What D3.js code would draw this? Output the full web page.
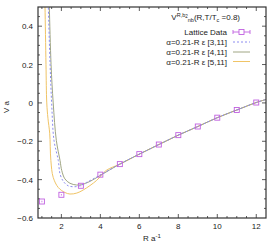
<!DOCTYPE html>
<html>
<head>
<meta charset="utf-8">
<script src="https://cdn.jsdelivr.net/npm/d3@7"></script>
<style>
  body { margin: 0; background: white; }
  svg { display: block; font-family: "Liberation Sans", Arial, sans-serif; }
</style>
</head>
<body>
<svg id="chart" width="280" height="251"></svg>
<script>
// lattice points
const latticeR = [1, 2, 3, 4, 5, 6, 7, 8, 9, 10, 11, 12];
const latticeV = [-0.514, -0.479, -0.432, -0.374, -0.319, -0.267, -0.217, -0.168, -0.123, -0.077, -0.037, 0.002];
const latticeErr = [0.004, 0.004, 0.003, 0.003, 0.003, 0.003, 0.003, 0.003, 0.003, 0.003, 0.003, 0.003];

// fit curves, sampled off the figure
const fit3R = [1.30, 1.33, 1.42, 1.50, 1.62, 1.84, 1.93, 2.10, 2.35, 2.70, 2.95, 3.30, 4.0, 5, 6, 7, 8, 9, 10, 11, 12, 12.5];
const fit3V = [0.60, 0.50, 0.20, 0.00, -0.195, -0.30, -0.37, -0.409, -0.432, -0.437, -0.432, -0.414, -0.376, -0.319, -0.267, -0.217, -0.168, -0.123, -0.077, -0.037, 0.002, 0.018];
const fit4R = [1.35, 1.38, 1.47, 1.58, 1.74, 1.93, 2.02, 2.18, 2.44, 2.78, 3.04, 3.47, 3.98, 5, 6, 7, 8, 9, 10, 11, 12, 12.5];
const fit4V = [0.60, 0.50, 0.20, 0.00, -0.195, -0.30, -0.353, -0.396, -0.419, -0.428, -0.426, -0.409, -0.379, -0.319, -0.267, -0.217, -0.168, -0.123, -0.077, -0.037, 0.002, 0.018];
const fit5R = [1.14, 1.16, 1.21, 1.25, 1.31, 1.40, 1.46, 1.58, 1.84, 2.18, 2.44, 2.79, 3.12, 3.81, 4.3, 5, 6, 7, 8, 9, 10, 11, 12, 12.5];
const fit5V = [0.60, 0.50, 0.20, 0.00, -0.08, -0.158, -0.30, -0.388, -0.441, -0.467, -0.475, -0.470, -0.454, -0.404, -0.352, -0.319, -0.267, -0.217, -0.168, -0.123, -0.077, -0.037, 0.002, 0.018];

const xTicks = [2, 4, 6, 8, 10, 12];
const yTicks = [-0.6, -0.4, -0.2, 0, 0.2, 0.4];
const legendLabels = ["Lattice Data", "\u03b1=0.21-R \u03b5 [3,11]", "\u03b1=0.21-R \u03b5 [4,11]", "\u03b1=0.21-R \u03b5 [5,11]"];

const colLattice = "#c060e0", colFit3 = "#8c8cf0", colFit4 = "#a0a684", colFit5 = "#f0c466";

const svg = d3.select("#chart");
const pLeft = 38, pRight = 266, pTop = 7, pBottom = 218;

const x = d3.scaleLinear().domain([0.8, 12.5]).range([pLeft, pRight]);
const y = d3.scaleLinear().domain([-0.6, 0.5]).range([pBottom, pTop]);

svg.append("defs").append("clipPath").attr("id", "plotclip")
  .append("rect").attr("x", pLeft).attr("y", pTop).attr("width", pRight - pLeft).attr("height", pBottom - pTop);

// ticks (inward, mirrored)
const tickG = svg.append("g").attr("stroke", "#333").attr("stroke-width", 0.8);
d3.range(1, 12.5, 0.5).forEach(v => {
  const len = Number.isInteger(v / 2) ? 4 : 2;
  tickG.append("line").attr("x1", x(v)).attr("x2", x(v)).attr("y1", pBottom).attr("y2", pBottom - len);
  tickG.append("line").attr("x1", x(v)).attr("x2", x(v)).attr("y1", pTop).attr("y2", pTop + len);
});
d3.range(-0.55, 0.5, 0.05).forEach(v => {
  const major = Math.abs(Math.round(v * 10) - v * 10) < 1e-6 && Math.round(v * 10) % 2 === 0;
  const len = major ? 4 : 2;
  tickG.append("line").attr("x1", pLeft).attr("x2", pLeft + len).attr("y1", y(v)).attr("y2", y(v));
  tickG.append("line").attr("x1", pRight).attr("x2", pRight - len).attr("y1", y(v)).attr("y2", y(v));
});

// tick labels
svg.append("g").selectAll("text").data(xTicks).join("text")
  .attr("x", d => x(d)).attr("y", 229).attr("text-anchor", "middle")
  .attr("font-size", 8).attr("fill", "#222").text(d => d);
svg.append("g").selectAll("text").data(yTicks).join("text")
  .attr("x", 33).attr("y", d => y(d) + 3).attr("text-anchor", "end")
  .attr("font-size", 8).attr("fill", "#222").text(d => d === 0 ? "0" : d3.format(".1f")(d));

// axis titles
svg.append("text").attr("transform", "translate(9,107) rotate(-90)")
  .attr("text-anchor", "middle").attr("font-size", 8).attr("fill", "#222").text("V a");
const xl = svg.append("text").attr("x", 143).attr("y", 241).attr("font-size", 8).attr("fill", "#222");
xl.append("tspan").text("R a");
xl.append("tspan").attr("font-size", 6).attr("dy", -3).text("-1");

// fit curves
const plot = svg.append("g").attr("clip-path", "url(#plotclip)");
const line = d3.line().x(d => x(d[0])).y(d => y(d[1])).curve(d3.curveCatmullRom.alpha(0.5));
const fits = [
  { r: fit5R, v: fit5V, color: colFit5, dash: null },
  { r: fit4R, v: fit4V, color: colFit4, dash: null },
  { r: fit3R, v: fit3V, color: colFit3, dash: "2,2" }
];
fits.forEach(f => {
  plot.append("path").datum(d3.zip(f.r, f.v))
    .attr("d", line).attr("fill", "none")
    .attr("stroke", f.color).attr("stroke-width", 1)
    .attr("stroke-dasharray", f.dash);
});

// lattice data
const pts = d3.zip(latticeR, latticeV, latticeErr);
plot.append("g").selectAll("line").data(pts).join("line")
  .attr("x1", d => x(d[0])).attr("x2", d => x(d[0]))
  .attr("y1", d => y(d[1] - d[2])).attr("y2", d => y(d[1] + d[2]))
  .attr("stroke", colLattice).attr("stroke-width", 0.8);
plot.append("g").selectAll("rect").data(pts).join("rect")
  .attr("x", d => x(d[0]) - 2.5).attr("y", d => y(d[1]) - 2.5)
  .attr("width", 5).attr("height", 5)
  .attr("fill", "none").attr("stroke", colLattice).attr("stroke-width", 0.9);

// frame
svg.append("rect").attr("x", pLeft).attr("y", pTop).attr("width", pRight - pLeft).attr("height", pBottom - pTop)
  .attr("fill", "none").attr("stroke", "#333").attr("stroke-width", 1.2);

// legend
const title = svg.append("text").attr("x", 240).attr("y", 20).attr("text-anchor", "end")
  .attr("font-size", 8).attr("fill", "#222");
title.append("tspan").text("V");
title.append("tspan").attr("font-size", 5.5).attr("dy", -3.5).text("R,b");
title.append("tspan").attr("font-size", 4.5).attr("dy", 1.5).text("2");
title.append("tspan").attr("font-size", 5.5).attr("dy", 3.5).text("nb");
title.append("tspan").attr("dy", -1.5).text("(R,T/T");
title.append("tspan").attr("font-size", 5.5).attr("dy", 2).text("c");
title.append("tspan").attr("dy", -2).text(" =0.8)");

const legRows = [32, 42, 52, 61.5];
const leg = svg.append("g");
leg.selectAll("text").data(legendLabels).join("text")
  .attr("x", 227).attr("y", (d, i) => legRows[i] + 3)
  .attr("text-anchor", "end").attr("font-size", 8).attr("fill", "#222").text(d => d);

const lx0 = 233, lx1 = 250, lyL = legRows[0];
leg.append("line").attr("x1", lx0).attr("x2", lx1).attr("y1", lyL).attr("y2", lyL).attr("stroke", colLattice).attr("stroke-width", 0.9);
[lx0, lx1].forEach(v => leg.append("line").attr("x1", v).attr("x2", v).attr("y1", lyL - 2).attr("y2", lyL + 2).attr("stroke", colLattice).attr("stroke-width", 0.9));
leg.append("rect").attr("x", (lx0 + lx1) / 2 - 2.5).attr("y", lyL - 2.5).attr("width", 5).attr("height", 5)
  .attr("fill", "white").attr("stroke", colLattice).attr("stroke-width", 0.9);
[[colFit3, "2,2"], [colFit4, null], [colFit5, null]].forEach((c, i) => {
  leg.append("line").attr("x1", lx0).attr("x2", lx1).attr("y1", legRows[i + 1]).attr("y2", legRows[i + 1])
    .attr("stroke", c[0]).attr("stroke-width", 1).attr("stroke-dasharray", c[1]);
});
</script>
</body>
</html>
